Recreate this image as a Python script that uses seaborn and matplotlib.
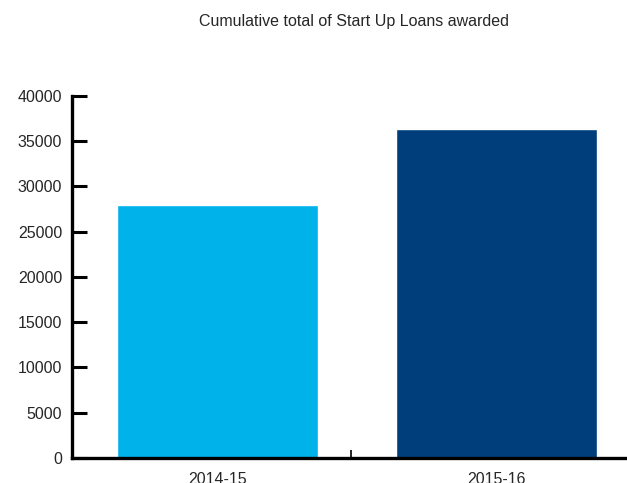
import matplotlib
matplotlib.use("Agg")
import matplotlib.pyplot as plt
from matplotlib.ticker import FixedLocator
import seaborn as sns
import pandas as pd

years = ["2014-15", "2015-16"]
loans = [27950, 36350]
colors = ["#00B2EA", "#003E7B"]
y_ticks = [0, 5000, 10000, 15000, 20000, 25000, 30000, 35000, 40000]

sns.set_style("white")
plt.rcParams["font.family"] = ["Liberation Sans", "DejaVu Sans"]

df = pd.DataFrame({"year": years, "loans": loans})

fig = plt.figure(figsize=(6.27, 4.83), dpi=100)
ax = fig.add_axes([72 / 627, 1 - 458 / 483, 1 - 72 / 627, (458 - 95.7) / 483])

sns.barplot(data=df, x="year", y="loans", hue="year", palette=colors,
            width=0.72, saturation=1, legend=False, ax=ax)

ax.set_xlim(-0.5215, 1.4677)
ax.set_ylim(0, 40000)
ax.set_yticks(y_ticks)
ax.set_yticklabels([str(v) for v in y_ticks])
ax.set_xlabel("")
ax.set_ylabel("")

for side in ("top", "right"):
    ax.spines[side].set_visible(False)
for side in ("left", "bottom"):
    ax.spines[side].set_linewidth(2.4)
    ax.spines[side].set_color("black")

ax.tick_params(axis="y", direction="in", length=11, width=2.2, color="black",
               labelsize=11.5, pad=7, left=True)
ax.tick_params(axis="x", which="major", length=0, labelsize=11.5, pad=10)
ax.xaxis.set_minor_locator(FixedLocator([0.4785]))
ax.tick_params(axis="x", which="minor", direction="in", length=6, width=1.2,
               color="black", bottom=True)

fig.suptitle("Cumulative total of Start Up Loans awarded", x=0.565, y=0.955,
             fontsize=11.5, va="center")

fig.savefig("out.png", dpi=100)
